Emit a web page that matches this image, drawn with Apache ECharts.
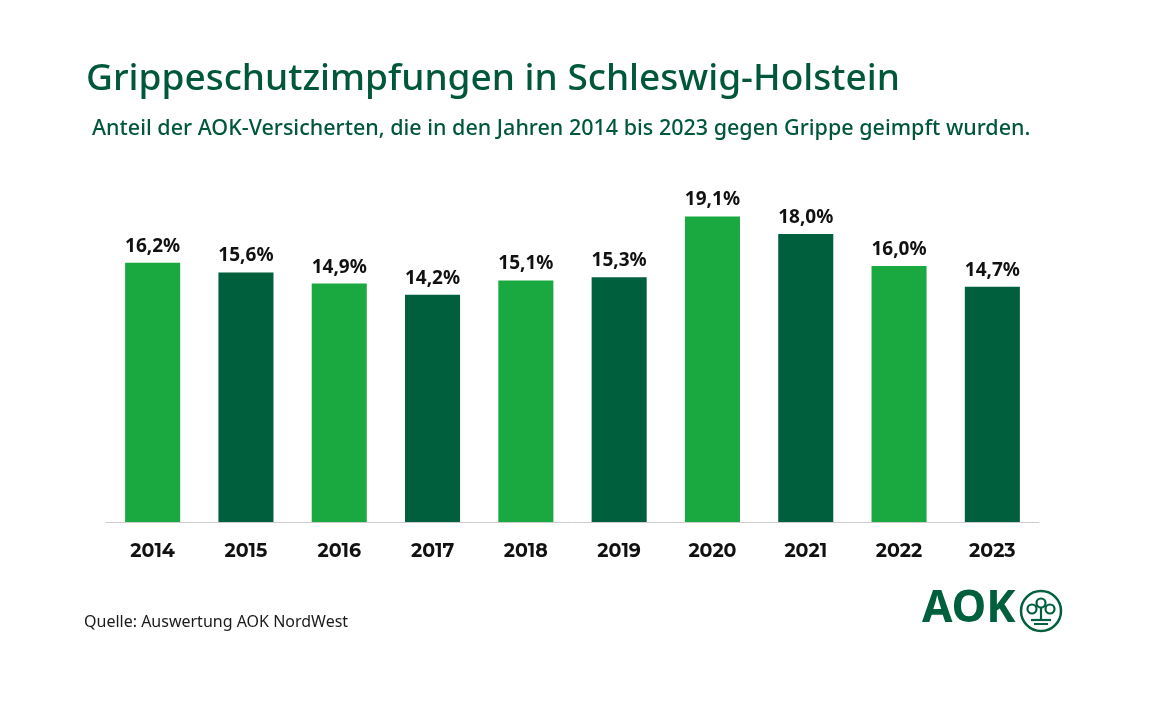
<!DOCTYPE html>
<html><head><meta charset="utf-8">
<script src="https://cdn.jsdelivr.net/npm/echarts@6/dist/echarts.min.js"></script>
<style>html,body{margin:0;padding:0;background:#fff}#c{width:1152px;height:719px}</style>
</head><body><div id="c"></div>
<script>
const years = ['2014','2015','2016','2017','2018','2019','2020','2021','2022','2023'];
const values = [16.2, 15.6, 14.9, 14.2, 15.1, 15.3, 19.1, 18.0, 16.0, 14.7];
const barColors = ['#1aa940', '#005f3c'];

const chart = echarts.init(document.getElementById('c'));
chart.setOption({
  backgroundColor: '#ffffff',
  animation: false,
  title: [
    {text: 'Grippeschutzimpfungen in Schleswig-Holstein', left: 81, top: 56,
     textStyle: {fontFamily: '"Noto Sans", sans-serif', fontSize: 37, fontWeight: 500, color: '#00573a'}},
    {text: 'Anteil der AOK-Versicherten, die in den Jahren 2014 bis 2023 gegen Grippe geimpft wurden.', left: 87, top: 113,
     textStyle: {fontFamily: '"Noto Sans", sans-serif', fontSize: 21.5, fontWeight: 500, color: '#00573a'}},
    {text: 'Quelle: Auswertung AOK NordWest', left: 79, top: 609,
     textStyle: {fontFamily: '"Noto Sans", sans-serif', fontSize: 16, fontWeight: 400, color: '#1a1a1a'}}
  ],
  grid: {left: 106, right: 113, top: 202, bottom: 197, containLabel: false},
  xAxis: {
    type: 'category', data: years,
    axisLine: {lineStyle: {color: '#cccccc', width: 1}},
    axisTick: {show: false},
    axisLabel: {margin: 20, fontFamily: 'Montserrat, "Noto Sans", sans-serif', fontSize: 19, fontWeight: 700, color: '#111'}
  },
  yAxis: {type: 'value', min: 0, max: 20, show: false, splitLine: {show: false}},
  series: [{
    type: 'bar', data: values, barWidth: '59%',
    itemStyle: {color: p => barColors[p.dataIndex % 2]},
    label: {show: true, position: 'top', distance: 7,
      fontFamily: '"Noto Sans", sans-serif', fontSize: 19, fontWeight: 700, color: '#111',
      formatter: p => p.value.toFixed(1).replace('.', ',') + '%'}
  }],
  graphic: [
    {type: 'text', left: 922, top: 587,
     style: {text: 'AOK', fontFamily: '"Noto Sans", sans-serif', fontSize: 44, fontWeight: 700, fill: '#005f3c'}},
    {type: 'circle', shape: {cx: 1041, cy: 611, r: 20}, style: {fill: 'none', stroke: '#005f3c', lineWidth: 2.5}},
    {type: 'circle', shape: {cx: 1041, cy: 603, r: 4.5}, style: {fill: 'none', stroke: '#005f3c', lineWidth: 2.2}},
    {type: 'circle', shape: {cx: 1032, cy: 609, r: 4.5}, style: {fill: 'none', stroke: '#005f3c', lineWidth: 2.2}},
    {type: 'circle', shape: {cx: 1050, cy: 609, r: 4.5}, style: {fill: 'none', stroke: '#005f3c', lineWidth: 2.2}},
    {type: 'line', shape: {x1: 1041, y1: 608, x2: 1041, y2: 620}, style: {stroke: '#005f3c', lineWidth: 2.2}},
    {type: 'line', shape: {x1: 1031, y1: 620, x2: 1051, y2: 620}, style: {stroke: '#005f3c', lineWidth: 2.2}},
    {type: 'line', shape: {x1: 1034, y1: 624, x2: 1048, y2: 624}, style: {stroke: '#005f3c', lineWidth: 2}}
  ]
});
</script></body></html>
